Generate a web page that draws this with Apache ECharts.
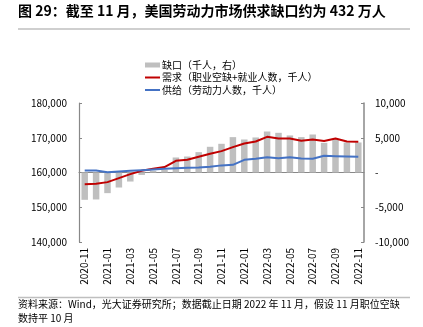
<!DOCTYPE html>
<html>
<head>
<meta charset="utf-8">
<script src="https://cdn.jsdelivr.net/npm/echarts@6/dist/echarts.min.js"></script>
<style>
html,body{margin:0;padding:0;background:#fff;}
#c{width:423px;height:327px;}
</style>
</head>
<body>
<div id="c"></div>
<script>
const categories = ['2020-11','2020-12','2021-01','2021-02','2021-03','2021-04','2021-05','2021-06','2021-07','2021-08','2021-09','2021-10','2021-11','2021-12','2022-01','2022-02','2022-03','2022-04','2022-05','2022-06','2022-07','2022-08','2022-09','2022-10','2022-11'];
const gapValues = [-3930,-3880,-2970,-2160,-1300,-350,250,400,2160,2300,2930,3700,4130,5090,4750,5040,5900,5710,5330,5090,5470,4270,4800,4320,4320];
const demandValues = [156650,156750,157230,158380,159530,160480,161060,161550,163370,163660,164520,165380,166150,167310,168350,168920,170270,169790,169790,169120,169500,169040,169790,168920,168840];
const supplyValues = [160580,160580,160100,160290,160480,160670,160860,161060,161250,161350,161440,161640,162050,162210,163650,163940,164420,164130,164420,164040,163940,164810,164710,164620,164520];
const leftTicks = {min:140000, max:180000, interval:10000};
const rightTicks = {min:-10000, max:10000, interval:5000};
const seriesNames = ['缺口（千人，右）','需求（职业空缺+就业人数，千人）','供给（劳动力人数，千人）'];
const titleText = '图 29：截至 11 月，美国劳动力市场供求缺口约为 432 万人';
const sourceLine1 = '资料来源：Wind，光大证券研究所；数据截止日期 2022 年 11 月，假设 11 月职位空缺';
const sourceLine2 = '数持平 10 月';

const FONT = '"Noto Sans CJK SC","Noto Sans",sans-serif';
const fmt = v => v === 0 ? '-' : v.toLocaleString('en-US');
const lineIcon = 'path://M0,0 M15,5 M0,1.5 L15,1.5 L15,3.5 L0,3.5 Z';

const chart = echarts.init(document.getElementById('c'), null, {renderer:'canvas'});
chart.setOption({
  animation:false,
  backgroundColor:'#fff',
  textStyle:{fontFamily:FONT},
  graphic:[
    {type:'text', left:18, top:4, style:{text:titleText, font:'bold 14px '+FONT, fill:'#000'}},
    {type:'line', shape:{x1:18,y1:29,x2:410,y2:29}, style:{stroke:'#bfbfbf', lineWidth:1.5}},
    {type:'line', shape:{x1:18,y1:297.5,x2:410,y2:297.5}, style:{stroke:'#bfbfbf', lineWidth:1.5}},
    {type:'text', left:18, top:299, style:{text:sourceLine1, font:'10px '+FONT, fill:'#000'}},
    {type:'text', left:18, top:313, style:{text:sourceLine2, font:'10px '+FONT, fill:'#000'}}
  ],
  legend:{
    orient:'vertical', left:140, top:55, itemWidth:15, itemHeight:5, itemGap:2.5,
    textStyle:{fontSize:10, color:'#000', fontFamily:FONT, padding:[0,0,0,-3]},
    data:[
      {name:seriesNames[0], icon:'rect', itemStyle:{color:'#bfbfbf'}},
      {name:seriesNames[1], icon:lineIcon, itemStyle:{color:'#c00000'}},
      {name:seriesNames[2], icon:lineIcon, itemStyle:{color:'#4472c4'}}
    ]
  },
  grid:{left:79, right:59, top:103, bottom:85, containLabel:false},
  xAxis:{
    type:'category', data:categories, boundaryGap:true,
    axisLine:{lineStyle:{color:'#888', width:1.2}},
    axisTick:{inside:true, interval:1, length:3, lineStyle:{color:'#888'}},
    axisLabel:{rotate:90, interval:1, fontSize:10, color:'#000', margin:6, fontFamily:FONT}
  },
  yAxis:[
    {type:'value', min:leftTicks.min, max:leftTicks.max, interval:leftTicks.interval, position:'left',
     splitLine:{show:false},
     axisLine:{show:true, lineStyle:{color:'#888', width:1.2}},
     axisTick:{show:true, inside:true, length:3, lineStyle:{color:'#888'}},
     axisLabel:{formatter:fmt, fontSize:10, color:'#000', margin:12, fontFamily:FONT}},
    {type:'value', min:rightTicks.min, max:rightTicks.max, interval:rightTicks.interval, position:'right',
     splitLine:{show:false},
     axisLine:{show:true, lineStyle:{color:'#888', width:1.5}},
     axisTick:{show:true, inside:true, length:3, lineStyle:{color:'#888'}},
     axisLabel:{formatter:fmt, fontSize:10, color:'#000', margin:11, fontFamily:FONT}}
  ],
  series:[
    {name:seriesNames[0], type:'bar', yAxisIndex:1, data:gapValues, barWidth:6.5,
     itemStyle:{color:'#bfbfbf'}},
    {name:seriesNames[1], type:'line', yAxisIndex:0, data:demandValues, symbol:'none',
     lineStyle:{color:'#c00000', width:2}, itemStyle:{color:'#c00000'}},
    {name:seriesNames[2], type:'line', yAxisIndex:0, data:supplyValues, symbol:'none',
     lineStyle:{color:'#4472c4', width:2}, itemStyle:{color:'#4472c4'}}
  ]
});
</script>
</body>
</html>
